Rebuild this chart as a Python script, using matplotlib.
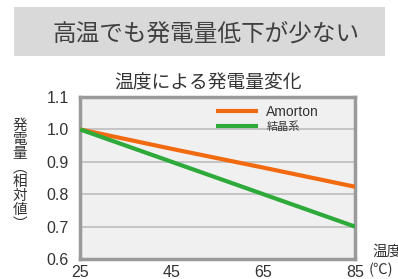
import matplotlib
matplotlib.use("Agg")
import matplotlib.pyplot as plt
from matplotlib.patches import Rectangle

plt.rcParams['font.family'] = ['Liberation Sans', 'Noto Sans CJK JP', 'DejaVu Sans']

temps = [25, 45, 65, 85]
amorton = [1.0, 0.94, 0.882, 0.823]
crystalline = [1.0, 0.9, 0.8, 0.70]
series_names = ["Amorton", "結晶系"]
yticks = [0.6, 0.7, 0.8, 0.9, 1.0, 1.1]
xticks = [25, 45, 65, 85]

fig = plt.figure(figsize=(3.98, 2.79), dpi=100)
jp = ['Noto Sans CJK JP', 'DejaVu Sans']

# Banner
fig.patches.append(Rectangle((14/398, 1-56/279), 371/398, 49/279, transform=fig.transFigure,
                             facecolor='#d9d9d9', edgecolor='none', zorder=0))
fig.text(206/398, 1-34/279, "高温でも発電量低下が少ない", ha='center', va='center',
         fontsize=17, color='#404040', family=jp)

ax = fig.add_axes([80/398, 1-259/279, 275/398, 162/279])
ax.set_facecolor('#f0f0f0')
ax.set_xlim(25, 85)
ax.set_ylim(0.6, 1.1)
for y in [0.7, 0.8, 0.9, 1.0]:
    ax.axhline(y, color='#bdbdbd', lw=1.2, zorder=1)
ax.plot(temps, amorton, color='#f26a10', lw=3.0, label=series_names[0], zorder=3, solid_capstyle='butt')
ax.plot(temps, crystalline, color='#2eaa3a', lw=3.0, label=series_names[1], zorder=3, solid_capstyle='butt')

ax.set_xticks(xticks)
ax.set_xticklabels([str(t) for t in xticks])
ax.set_yticks(yticks)
ax.set_yticklabels([f"{v:.1f}" for v in yticks])
ax.tick_params(length=0, labelsize=11.5, colors='#333333', pad=8)
ax.tick_params(axis='x', pad=4)
for s in ax.spines.values():
    s.set_color('#9a9a9a')
    s.set_linewidth(2.5)

ax.set_title("温度による発電量変化", fontsize=13.5, color='#333333', family=jp, pad=6, x=0.465)

leg = ax.legend(loc='upper right', frameon=False, handlelength=3.0, borderaxespad=0.2,
                labelspacing=0.1, handletextpad=0.6, bbox_to_anchor=(0.90, 1.0))
texts = leg.get_texts()
texts[0].set_fontsize(10)
texts[0].set_color('#333333')
texts[1].set_fontsize(8)
texts[1].set_color('#333333')
texts[1].set_family(jp)

# Vertical y label (stacked characters)
fig.text(20/398, 1-175/279, "発\n電\n量\n︵\n相\n対\n値\n︶", ha='center', va='center',
         fontsize=10.5, color='#333333', family=jp, linespacing=1.0)

fig.text(372/398, 1-252/279, "温度", ha='left', va='center', fontsize=10.5, color='#333333', family=jp)
fig.text(369/398, 1-270/279, "(℃)", ha='left', va='center', fontsize=10.5, color='#333333', family=jp)

fig.savefig("out.png", dpi=100)
